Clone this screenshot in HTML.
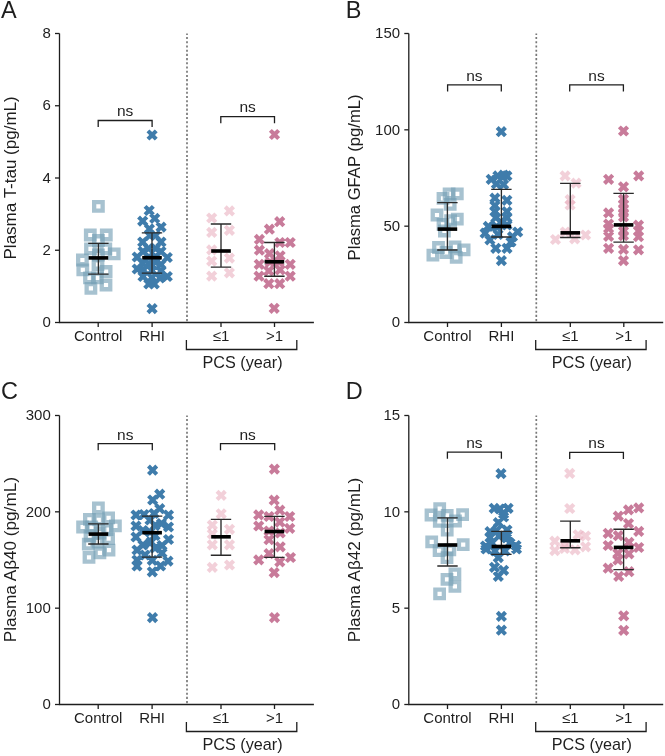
<!DOCTYPE html>
<html><head><meta charset="utf-8"><style>
html,body{margin:0;padding:0;background:#fff;}
svg{display:block;will-change:transform;}
text{font-family:"Liberation Sans", sans-serif;fill:#1e1e1e;}
.t{font-size:15px;}
.t2{font-size:16.2px;}
.t3{font-size:16px;}
.t4{font-size:15.5px;}
.L{font-size:23.5px;}
</style></head><body>
<svg width="665" height="756" viewBox="0 0 665 756">
<defs><path id="x" d="M0,2.9L2.7,5.6L5.6,2.7L2.9,0L5.6,-2.7L2.7,-5.6L0,-2.9L-2.7,-5.6L-5.6,-2.7L-2.9,0L-5.6,2.7L-2.7,5.6Z"/><path id="s" d="M-6.4,-6.4H6.4V6.4H-6.4ZM-2.1,-2.1V2.1H2.1V-2.1Z" fill-rule="evenodd"/></defs>
<g transform="translate(0,0)">
<path d="M59.5,33.5V322.5H313.9" fill="none" stroke="#1e1e1e" stroke-width="1.3"/>
<path d="M55,322.5H59.5" stroke="#1e1e1e" stroke-width="1.3"/>
<text x="50.8" y="327.2" text-anchor="end" class="t">0</text>
<path d="M55,250.25H59.5" stroke="#1e1e1e" stroke-width="1.3"/>
<text x="50.8" y="254.95" text-anchor="end" class="t">2</text>
<path d="M55,178H59.5" stroke="#1e1e1e" stroke-width="1.3"/>
<text x="50.8" y="182.7" text-anchor="end" class="t">4</text>
<path d="M55,105.75H59.5" stroke="#1e1e1e" stroke-width="1.3"/>
<text x="50.8" y="110.45" text-anchor="end" class="t">6</text>
<path d="M55,33.5H59.5" stroke="#1e1e1e" stroke-width="1.3"/>
<text x="50.8" y="38.2" text-anchor="end" class="t">8</text>
<path d="M98.2,322.5V327" stroke="#1e1e1e" stroke-width="1.3"/>
<path d="M152.1,322.5V327" stroke="#1e1e1e" stroke-width="1.3"/>
<path d="M221.0,322.5V327" stroke="#1e1e1e" stroke-width="1.3"/>
<path d="M274.5,322.5V327" stroke="#1e1e1e" stroke-width="1.3"/>
<text x="98.2" y="341.2" text-anchor="middle" class="t">Control</text>
<text x="152.1" y="341.2" text-anchor="middle" class="t">RHI</text>
<text x="221.0" y="341.2" text-anchor="middle" class="t">≤1</text>
<text x="274.5" y="341.2" text-anchor="middle" class="t">&gt;1</text>
<path d="M187,33.5V322.5" stroke="#787878" stroke-width="1.7" stroke-dasharray="2.1,2.11" stroke-dashoffset="0.7"/>
<path d="M186.4,340V349.5H296.8V340" fill="none" stroke="#1e1e1e" stroke-width="1.3"/>
<text x="242.5" y="368.4" text-anchor="middle" class="t2">PCS (year)</text>
<text x="1.0" y="18.0" class="L">A</text>
<text transform="translate(15.9,177.9) rotate(-90)" text-anchor="middle" class="t3" textLength="163.2" lengthAdjust="spacingAndGlyphs">Plasma T-tau (pg/mL)</text>
<path d="M98.2,127.1V120.5H152.1V127.1" fill="none" stroke="#1e1e1e" stroke-width="1.3"/>
<text x="125.15" y="116.3" text-anchor="middle" class="t4">ns</text>
<path d="M220.8,123.2V116.6H274.5V123.2" fill="none" stroke="#1e1e1e" stroke-width="1.3"/>
<text x="247.65" y="112.4" text-anchor="middle" class="t4">ns</text>
</g>
<g transform="translate(349.3,0)">
<path d="M59.5,33.5V322.5H313.9" fill="none" stroke="#1e1e1e" stroke-width="1.3"/>
<path d="M55,322.5H59.5" stroke="#1e1e1e" stroke-width="1.3"/>
<text x="50.8" y="327.2" text-anchor="end" class="t">0</text>
<path d="M55,226.17H59.5" stroke="#1e1e1e" stroke-width="1.3"/>
<text x="50.8" y="230.87" text-anchor="end" class="t">50</text>
<path d="M55,129.83H59.5" stroke="#1e1e1e" stroke-width="1.3"/>
<text x="50.8" y="134.53" text-anchor="end" class="t">100</text>
<path d="M55,33.5H59.5" stroke="#1e1e1e" stroke-width="1.3"/>
<text x="50.8" y="38.2" text-anchor="end" class="t">150</text>
<path d="M98.2,322.5V327" stroke="#1e1e1e" stroke-width="1.3"/>
<path d="M152.1,322.5V327" stroke="#1e1e1e" stroke-width="1.3"/>
<path d="M221.0,322.5V327" stroke="#1e1e1e" stroke-width="1.3"/>
<path d="M274.5,322.5V327" stroke="#1e1e1e" stroke-width="1.3"/>
<text x="98.2" y="341.2" text-anchor="middle" class="t">Control</text>
<text x="152.1" y="341.2" text-anchor="middle" class="t">RHI</text>
<text x="221.0" y="341.2" text-anchor="middle" class="t">≤1</text>
<text x="274.5" y="341.2" text-anchor="middle" class="t">&gt;1</text>
<path d="M187,33.5V322.5" stroke="#787878" stroke-width="1.7" stroke-dasharray="2.1,2.11" stroke-dashoffset="0.7"/>
<path d="M186.4,340V349.5H296.8V340" fill="none" stroke="#1e1e1e" stroke-width="1.3"/>
<text x="242.5" y="368.4" text-anchor="middle" class="t2">PCS (year)</text>
<text x="-3.5" y="18.0" class="L">B</text>
<text transform="translate(10.8,177.4) rotate(-90)" text-anchor="middle" class="t3" textLength="166" lengthAdjust="spacingAndGlyphs">Plasma GFAP (pg/mL)</text>
<path d="M98.3,91.4V84.8H152.0V91.4" fill="none" stroke="#1e1e1e" stroke-width="1.3"/>
<text x="125.15" y="80.6" text-anchor="middle" class="t4">ns</text>
<path d="M220.4,91.5V84.9H274.1V91.5" fill="none" stroke="#1e1e1e" stroke-width="1.3"/>
<text x="247.25" y="80.7" text-anchor="middle" class="t4">ns</text>
</g>
<g transform="translate(0,382)">
<path d="M59.5,33.5V322.5H313.9" fill="none" stroke="#1e1e1e" stroke-width="1.3"/>
<path d="M55,322.5H59.5" stroke="#1e1e1e" stroke-width="1.3"/>
<text x="50.8" y="327.2" text-anchor="end" class="t">0</text>
<path d="M55,226.17H59.5" stroke="#1e1e1e" stroke-width="1.3"/>
<text x="50.8" y="230.87" text-anchor="end" class="t">100</text>
<path d="M55,129.83H59.5" stroke="#1e1e1e" stroke-width="1.3"/>
<text x="50.8" y="134.53" text-anchor="end" class="t">200</text>
<path d="M55,33.5H59.5" stroke="#1e1e1e" stroke-width="1.3"/>
<text x="50.8" y="38.2" text-anchor="end" class="t">300</text>
<path d="M98.2,322.5V327" stroke="#1e1e1e" stroke-width="1.3"/>
<path d="M152.1,322.5V327" stroke="#1e1e1e" stroke-width="1.3"/>
<path d="M221.0,322.5V327" stroke="#1e1e1e" stroke-width="1.3"/>
<path d="M274.5,322.5V327" stroke="#1e1e1e" stroke-width="1.3"/>
<text x="98.2" y="341.2" text-anchor="middle" class="t">Control</text>
<text x="152.1" y="341.2" text-anchor="middle" class="t">RHI</text>
<text x="221.0" y="341.2" text-anchor="middle" class="t">≤1</text>
<text x="274.5" y="341.2" text-anchor="middle" class="t">&gt;1</text>
<path d="M187,33.5V322.5" stroke="#787878" stroke-width="1.7" stroke-dasharray="2.1,2.11" stroke-dashoffset="0.7"/>
<path d="M186.4,340V349.5H296.8V340" fill="none" stroke="#1e1e1e" stroke-width="1.3"/>
<text x="242.5" y="368.4" text-anchor="middle" class="t2">PCS (year)</text>
<text x="1.0" y="17.4" class="L">C</text>
<text transform="translate(15.9,177.7) rotate(-90)" text-anchor="middle" class="t3" textLength="165.2" lengthAdjust="spacingAndGlyphs">Plasma Aβ40 (pg/mL)</text>
<path d="M98.2,68.3V61.7H152.3V68.3" fill="none" stroke="#1e1e1e" stroke-width="1.3"/>
<text x="125.25" y="57.5" text-anchor="middle" class="t4">ns</text>
<path d="M220.5,68.3V61.7H274.7V68.3" fill="none" stroke="#1e1e1e" stroke-width="1.3"/>
<text x="247.6" y="57.5" text-anchor="middle" class="t4">ns</text>
</g>
<g transform="translate(349.3,382)">
<path d="M59.5,33.5V322.5H313.9" fill="none" stroke="#1e1e1e" stroke-width="1.3"/>
<path d="M55,322.5H59.5" stroke="#1e1e1e" stroke-width="1.3"/>
<text x="50.8" y="327.2" text-anchor="end" class="t">0</text>
<path d="M55,226.17H59.5" stroke="#1e1e1e" stroke-width="1.3"/>
<text x="50.8" y="230.87" text-anchor="end" class="t">5</text>
<path d="M55,129.83H59.5" stroke="#1e1e1e" stroke-width="1.3"/>
<text x="50.8" y="134.53" text-anchor="end" class="t">10</text>
<path d="M55,33.5H59.5" stroke="#1e1e1e" stroke-width="1.3"/>
<text x="50.8" y="38.2" text-anchor="end" class="t">15</text>
<path d="M98.2,322.5V327" stroke="#1e1e1e" stroke-width="1.3"/>
<path d="M152.1,322.5V327" stroke="#1e1e1e" stroke-width="1.3"/>
<path d="M221.0,322.5V327" stroke="#1e1e1e" stroke-width="1.3"/>
<path d="M274.5,322.5V327" stroke="#1e1e1e" stroke-width="1.3"/>
<text x="98.2" y="341.2" text-anchor="middle" class="t">Control</text>
<text x="152.1" y="341.2" text-anchor="middle" class="t">RHI</text>
<text x="221.0" y="341.2" text-anchor="middle" class="t">≤1</text>
<text x="274.5" y="341.2" text-anchor="middle" class="t">&gt;1</text>
<path d="M187,33.5V322.5" stroke="#787878" stroke-width="1.7" stroke-dasharray="2.1,2.11" stroke-dashoffset="0.7"/>
<path d="M186.4,340V349.5H296.8V340" fill="none" stroke="#1e1e1e" stroke-width="1.3"/>
<text x="242.5" y="368.4" text-anchor="middle" class="t2">PCS (year)</text>
<text x="-3.5" y="17.4" class="L">D</text>
<text transform="translate(10.3,178.0) rotate(-90)" text-anchor="middle" class="t3" textLength="164.4" lengthAdjust="spacingAndGlyphs">Plasma Aβ42 (pg/mL)</text>
<path d="M98.1,76.7V70.1H152.1V76.7" fill="none" stroke="#1e1e1e" stroke-width="1.3"/>
<text x="125.1" y="65.9" text-anchor="middle" class="t4">ns</text>
<path d="M220.4,76.9V70.3H274.1V76.9" fill="none" stroke="#1e1e1e" stroke-width="1.3"/>
<text x="247.25" y="66.1" text-anchor="middle" class="t4">ns</text>
</g>
<g fill="#76a0b5" fill-opacity="0.64">
<use href="#s" x="98.4" y="206.4"/>
<use href="#s" x="90.3" y="235"/>
<use href="#s" x="106.3" y="235"/>
<use href="#s" x="98.4" y="240.5"/>
<use href="#s" x="90.5" y="248.8"/>
<use href="#s" x="105.8" y="248.8"/>
<use href="#s" x="114.2" y="253.9"/>
<use href="#s" x="98.4" y="255"/>
<use href="#s" x="82.4" y="260"/>
<use href="#s" x="82.8" y="269.8"/>
<use href="#s" x="98" y="264.5"/>
<use href="#s" x="106.1" y="271.5"/>
<use href="#s" x="89.5" y="277.9"/>
<use href="#s" x="97.3" y="277.9"/>
<use href="#s" x="106" y="285"/>
<use href="#s" x="90.9" y="288.3"/>
<use href="#s" x="449.1" y="193.9"/>
<use href="#s" x="457.3" y="193.9"/>
<use href="#s" x="443" y="198.4"/>
<use href="#s" x="450.2" y="204.4"/>
<use href="#s" x="437" y="215"/>
<use href="#s" x="457.3" y="219.1"/>
<use href="#s" x="450.6" y="220.6"/>
<use href="#s" x="443" y="224.4"/>
<use href="#s" x="444.4" y="231"/>
<use href="#s" x="432.9" y="255.1"/>
<use href="#s" x="438.5" y="247.5"/>
<use href="#s" x="446" y="252.5"/>
<use href="#s" x="455" y="246.8"/>
<use href="#s" x="464.1" y="249.8"/>
<use href="#s" x="456.2" y="257.3"/>
<use href="#s" x="98.4" y="507.8"/>
<use href="#s" x="89.4" y="519.4"/>
<use href="#s" x="108.6" y="517.9"/>
<use href="#s" x="98.8" y="519.8"/>
<use href="#s" x="82.6" y="527"/>
<use href="#s" x="115.4" y="525.8"/>
<use href="#s" x="91.7" y="527"/>
<use href="#s" x="107.1" y="529.6"/>
<use href="#s" x="90" y="536"/>
<use href="#s" x="100" y="533"/>
<use href="#s" x="108.6" y="538.6"/>
<use href="#s" x="88.3" y="544.2"/>
<use href="#s" x="98" y="542"/>
<use href="#s" x="109" y="550.2"/>
<use href="#s" x="99.9" y="552.8"/>
<use href="#s" x="89" y="557.3"/>
<use href="#s" x="439.7" y="508.6"/>
<use href="#s" x="431" y="515"/>
<use href="#s" x="447.2" y="515.4"/>
<use href="#s" x="462.6" y="514.7"/>
<use href="#s" x="439.3" y="521.4"/>
<use href="#s" x="455.5" y="521"/>
<use href="#s" x="447.2" y="530.1"/>
<use href="#s" x="431.7" y="541.9"/>
<use href="#s" x="463.2" y="544.7"/>
<use href="#s" x="439.1" y="550.7"/>
<use href="#s" x="449.8" y="549.8"/>
<use href="#s" x="447" y="557.7"/>
<use href="#s" x="454.9" y="573.9"/>
<use href="#s" x="447" y="579.4"/>
<use href="#s" x="454.9" y="586.4"/>
<use href="#s" x="439.6" y="593.8"/>
</g>
<g fill="#eab3c2" fill-opacity="0.62">
<use href="#x" x="211.7" y="218"/>
<use href="#x" x="229.4" y="210.9"/>
<use href="#x" x="211.7" y="232.4"/>
<use href="#x" x="229.4" y="230.3"/>
<use href="#x" x="211.7" y="249.9"/>
<use href="#x" x="211.7" y="261.1"/>
<use href="#x" x="229.4" y="258.1"/>
<use href="#x" x="211.7" y="276.1"/>
<use href="#x" x="229.4" y="272.8"/>
<use href="#x" x="565.1" y="175.9"/>
<use href="#x" x="576.1" y="183.1"/>
<use href="#x" x="570.1" y="199.7"/>
<use href="#x" x="570.1" y="205"/>
<use href="#x" x="555.5" y="239.5"/>
<use href="#x" x="585.6" y="235"/>
<use href="#x" x="574.7" y="238.8"/>
<use href="#x" x="565.3" y="232"/>
<use href="#x" x="221.2" y="495.4"/>
<use href="#x" x="221.2" y="513.8"/>
<use href="#x" x="212.3" y="525.1"/>
<use href="#x" x="229.5" y="529.3"/>
<use href="#x" x="212.3" y="534"/>
<use href="#x" x="212.3" y="544.8"/>
<use href="#x" x="229.5" y="544.8"/>
<use href="#x" x="212.3" y="567.4"/>
<use href="#x" x="229.5" y="565"/>
<use href="#x" x="569.7" y="473.4"/>
<use href="#x" x="569.7" y="508.5"/>
<use href="#x" x="554.8" y="541.2"/>
<use href="#x" x="554.8" y="550.6"/>
<use href="#x" x="565" y="545"/>
<use href="#x" x="578.1" y="534.8"/>
<use href="#x" x="585.6" y="536"/>
<use href="#x" x="585.6" y="546.8"/>
<use href="#x" x="575.1" y="549.8"/>
<use href="#x" x="564.5" y="548.5"/>
</g>
<path fill="#3f7cab" d="M152.1,137.9L154.8,140.6L157.7,137.7L155,135L157.7,132.3L154.8,129.4L152.1,132.1L149.4,129.4L146.5,132.3L149.2,135L146.5,137.7L149.4,140.6ZM149.2,213.4L151.9,216.1L154.8,213.2L152.1,210.5L154.8,207.8L151.9,204.9L149.2,207.6L146.5,204.9L143.6,207.8L146.3,210.5L143.6,213.2L146.5,216.1ZM154.7,221.3L157.4,224L160.3,221.1L157.6,218.4L160.3,215.7L157.4,212.8L154.7,215.5L152,212.8L149.1,215.7L151.8,218.4L149.1,221.1L152,224ZM142.7,224L145.4,226.7L148.3,223.8L145.6,221.1L148.3,218.4L145.4,215.5L142.7,218.2L140,215.5L137.1,218.4L139.8,221.1L137.1,223.8L140,226.7ZM161.1,230L163.8,232.7L166.7,229.8L164,227.1L166.7,224.4L163.8,221.5L161.1,224.2L158.4,221.5L155.5,224.4L158.2,227.1L155.5,229.8L158.4,232.7ZM149.4,231.8L152.1,234.5L155,231.6L152.3,228.9L155,226.2L152.1,223.3L149.4,226L146.7,223.3L143.8,226.2L146.5,228.9L143.8,231.6L146.7,234.5ZM149.8,238.4L152.5,241.1L155.4,238.2L152.7,235.5L155.4,232.8L152.5,229.9L149.8,232.6L147.1,229.9L144.2,232.8L146.9,235.5L144.2,238.2L147.1,241.1ZM155.5,238.4L158.2,241.1L161.1,238.2L158.4,235.5L161.1,232.8L158.2,229.9L155.5,232.6L152.8,229.9L149.9,232.8L152.6,235.5L149.9,238.2L152.8,241.1ZM142.7,244.9L145.4,247.6L148.3,244.7L145.6,242L148.3,239.3L145.4,236.4L142.7,239.1L140,236.4L137.1,239.3L139.8,242L137.1,244.7L140,247.6ZM161,244.9L163.7,247.6L166.6,244.7L163.9,242L166.6,239.3L163.7,236.4L161,239.1L158.3,236.4L155.4,239.3L158.1,242L155.4,244.7L158.3,247.6ZM148.5,251.4L151.2,254.1L154.1,251.2L151.4,248.5L154.1,245.8L151.2,242.9L148.5,245.6L145.8,242.9L142.9,245.8L145.6,248.5L142.9,251.2L145.8,254.1ZM155.5,251.4L158.2,254.1L161.1,251.2L158.4,248.5L161.1,245.8L158.2,242.9L155.5,245.6L152.8,242.9L149.9,245.8L152.6,248.5L149.9,251.2L152.8,254.1ZM143,254.4L145.7,257.1L148.6,254.2L145.9,251.5L148.6,248.8L145.7,245.9L143,248.6L140.3,245.9L137.4,248.8L140.1,251.5L137.4,254.2L140.3,257.1ZM161,254.4L163.7,257.1L166.6,254.2L163.9,251.5L166.6,248.8L163.7,245.9L161,248.6L158.3,245.9L155.4,248.8L158.1,251.5L155.4,254.2L158.3,257.1ZM137.2,259.9L139.9,262.6L142.8,259.7L140.1,257L142.8,254.3L139.9,251.4L137.2,254.1L134.5,251.4L131.6,254.3L134.3,257L131.6,259.7L134.5,262.6ZM167.3,260.4L170,263.1L172.9,260.2L170.2,257.5L172.9,254.8L170,251.9L167.3,254.6L164.6,251.9L161.7,254.8L164.4,257.5L161.7,260.2L164.6,263.1ZM149,259.9L151.7,262.6L154.6,259.7L151.9,257L154.6,254.3L151.7,251.4L149,254.1L146.3,251.4L143.4,254.3L146.1,257L143.4,259.7L146.3,262.6ZM155.5,259.4L158.2,262.1L161.1,259.2L158.4,256.5L161.1,253.8L158.2,250.9L155.5,253.6L152.8,250.9L149.9,253.8L152.6,256.5L149.9,259.2L152.8,262.1ZM142.5,265.9L145.2,268.6L148.1,265.7L145.4,263L148.1,260.3L145.2,257.4L142.5,260.1L139.8,257.4L136.9,260.3L139.6,263L136.9,265.7L139.8,268.6ZM161,267.4L163.7,270.1L166.6,267.2L163.9,264.5L166.6,261.8L163.7,258.9L161,261.6L158.3,258.9L155.4,261.8L158.1,264.5L155.4,267.2L158.3,270.1ZM149,266.4L151.7,269.1L154.6,266.2L151.9,263.5L154.6,260.8L151.7,257.9L149,260.6L146.3,257.9L143.4,260.8L146.1,263.5L143.4,266.2L146.3,269.1ZM155.5,264.9L158.2,267.6L161.1,264.7L158.4,262L161.1,259.3L158.2,256.4L155.5,259.1L152.8,256.4L149.9,259.3L152.6,262L149.9,264.7L152.8,267.6ZM137.2,271.9L139.9,274.6L142.8,271.7L140.1,269L142.8,266.3L139.9,263.4L137.2,266.1L134.5,263.4L131.6,266.3L134.3,269L131.6,271.7L134.5,274.6ZM143.5,272.9L146.2,275.6L149.1,272.7L146.4,270L149.1,267.3L146.2,264.4L143.5,267.1L140.8,264.4L137.9,267.3L140.6,270L137.9,272.7L140.8,275.6ZM152,273.4L154.7,276.1L157.6,273.2L154.9,270.5L157.6,267.8L154.7,264.9L152,267.6L149.3,264.9L146.4,267.8L149.1,270.5L146.4,273.2L149.3,276.1ZM161,273.9L163.7,276.6L166.6,273.7L163.9,271L166.6,268.3L163.7,265.4L161,268.1L158.3,265.4L155.4,268.3L158.1,271L155.4,273.7L158.3,276.6ZM143,279.4L145.7,282.1L148.6,279.2L145.9,276.5L148.6,273.8L145.7,270.9L143,273.6L140.3,270.9L137.4,273.8L140.1,276.5L137.4,279.2L140.3,282.1ZM167.3,279.4L170,282.1L172.9,279.2L170.2,276.5L172.9,273.8L170,270.9L167.3,273.6L164.6,270.9L161.7,273.8L164.4,276.5L161.7,279.2L164.6,282.1ZM152,280.4L154.7,283.1L157.6,280.2L154.9,277.5L157.6,274.8L154.7,271.9L152,274.6L149.3,271.9L146.4,274.8L149.1,277.5L146.4,280.2L149.3,283.1ZM160,280.9L162.7,283.6L165.6,280.7L162.9,278L165.6,275.3L162.7,272.4L160,275.1L157.3,272.4L154.4,275.3L157.1,278L154.4,280.7L157.3,283.6ZM148.8,286.9L151.5,289.6L154.4,286.7L151.7,284L154.4,281.3L151.5,278.4L148.8,281.1L146.1,278.4L143.2,281.3L145.9,284L143.2,286.7L146.1,289.6ZM154.3,286.9L157,289.6L159.9,286.7L157.2,284L159.9,281.3L157,278.4L154.3,281.1L151.6,278.4L148.7,281.3L151.4,284L148.7,286.7L151.6,289.6ZM152.1,311.5L154.8,314.2L157.7,311.3L155,308.6L157.7,305.9L154.8,303L152.1,305.7L149.4,303L146.5,305.9L149.2,308.6L146.5,311.3L149.4,314.2ZM501.3,134.6L504,137.3L506.9,134.4L504.2,131.7L506.9,129L504,126.1L501.3,128.8L498.6,126.1L495.7,129L498.4,131.7L495.7,134.4L498.6,137.3ZM491.2,182.2L493.9,184.9L496.8,182L494.1,179.3L496.8,176.6L493.9,173.7L491.2,176.4L488.5,173.7L485.6,176.6L488.3,179.3L485.6,182L488.5,184.9ZM497.9,178.8L500.6,181.5L503.5,178.6L500.8,175.9L503.5,173.2L500.6,170.3L497.9,173L495.2,170.3L492.3,173.2L495,175.9L492.3,178.6L495.2,181.5ZM503.6,178.1L506.3,180.8L509.2,177.9L506.5,175.2L509.2,172.5L506.3,169.6L503.6,172.3L500.9,169.6L498,172.5L500.7,175.2L498,177.9L500.9,180.8ZM506.9,178.8L509.6,181.5L512.5,178.6L509.8,175.9L512.5,173.2L509.6,170.3L506.9,173L504.2,170.3L501.3,173.2L504,175.9L501.3,178.6L504.2,181.5ZM496.4,186.7L499.1,189.4L502,186.5L499.3,183.8L502,181.1L499.1,178.2L496.4,180.9L493.7,178.2L490.8,181.1L493.5,183.8L490.8,186.5L493.7,189.4ZM503.6,187.4L506.3,190.1L509.2,187.2L506.5,184.5L509.2,181.8L506.3,178.9L503.6,181.6L500.9,178.9L498,181.8L500.7,184.5L498,187.2L500.9,190.1ZM494.9,201L497.6,203.7L500.5,200.8L497.8,198.1L500.5,195.4L497.6,192.5L494.9,195.2L492.2,192.5L489.3,195.4L492,198.1L489.3,200.8L492.2,203.7ZM506.9,203.2L509.6,205.9L512.5,203L509.8,200.3L512.5,197.6L509.6,194.7L506.9,197.4L504.2,194.7L501.3,197.6L504,200.3L501.3,203L504.2,205.9ZM494.9,208.5L497.6,211.2L500.5,208.3L497.8,205.6L500.5,202.9L497.6,200L494.9,202.7L492.2,200L489.3,202.9L492,205.6L489.3,208.3L492.2,211.2ZM494.9,214.5L497.6,217.2L500.5,214.3L497.8,211.6L500.5,208.9L497.6,206L494.9,208.7L492.2,206L489.3,208.9L492,211.6L489.3,214.3L492.2,217.2ZM506.9,214.5L509.6,217.2L512.5,214.3L509.8,211.6L512.5,208.9L509.6,206L506.9,208.7L504.2,206L501.3,208.9L504,211.6L501.3,214.3L504.2,217.2ZM495.8,220.6L498.5,223.3L501.4,220.4L498.7,217.7L501.4,215L498.5,212.1L495.8,214.8L493.1,212.1L490.2,215L492.9,217.7L490.2,220.4L493.1,223.3ZM507,220.6L509.7,223.3L512.6,220.4L509.9,217.7L512.6,215L509.7,212.1L507,214.8L504.3,212.1L501.4,215L504.1,217.7L501.4,220.4L504.3,223.3ZM501,224.9L503.7,227.6L506.6,224.7L503.9,222L506.6,219.3L503.7,216.4L501,219.1L498.3,216.4L495.4,219.3L498.1,222L495.4,224.7L498.3,227.6ZM488.3,229.3L491,232L493.9,229.1L491.2,226.4L493.9,223.7L491,220.8L488.3,223.5L485.6,220.8L482.7,223.7L485.4,226.4L482.7,229.1L485.6,232ZM497,229.9L499.7,232.6L502.6,229.7L499.9,227L502.6,224.3L499.7,221.4L497,224.1L494.3,221.4L491.4,224.3L494.1,227L491.4,229.7L494.3,232.6ZM507,227.9L509.7,230.6L512.6,227.7L509.9,225L512.6,222.3L509.7,219.4L507,222.1L504.3,219.4L501.4,222.3L504.1,225L501.4,227.7L504.3,230.6ZM485.1,236.1L487.8,238.8L490.7,235.9L488,233.2L490.7,230.5L487.8,227.6L485.1,230.3L482.4,227.6L479.5,230.5L482.2,233.2L479.5,235.9L482.4,238.8ZM517.7,234.9L520.4,237.6L523.3,234.7L520.6,232L523.3,229.3L520.4,226.4L517.7,229.1L515,226.4L512.1,229.3L514.8,232L512.1,234.7L515,237.6ZM498,237.4L500.7,240.1L503.6,237.2L500.9,234.5L503.6,231.8L500.7,228.9L498,231.6L495.3,228.9L492.4,231.8L495.1,234.5L492.4,237.2L495.3,240.1ZM512.5,239.6L515.2,242.3L518.1,239.4L515.4,236.7L518.1,234L515.2,231.1L512.5,233.8L509.8,231.1L506.9,234L509.6,236.7L506.9,239.4L509.8,242.3ZM489.9,242.8L492.6,245.5L495.5,242.6L492.8,239.9L495.5,237.2L492.6,234.3L489.9,237L487.2,234.3L484.3,237.2L487,239.9L484.3,242.6L487.2,245.5ZM511,244.9L513.7,247.6L516.6,244.7L513.9,242L516.6,239.3L513.7,236.4L511,239.1L508.3,236.4L505.4,239.3L508.1,242L505.4,244.7L508.3,247.6ZM495.8,251.2L498.5,253.9L501.4,251L498.7,248.3L501.4,245.6L498.5,242.7L495.8,245.4L493.1,242.7L490.2,245.6L492.9,248.3L490.2,251L493.1,253.9ZM507,251.2L509.7,253.9L512.6,251L509.9,248.3L512.6,245.6L509.7,242.7L507,245.4L504.3,242.7L501.4,245.6L504.1,248.3L501.4,251L504.3,253.9ZM501.4,263.5L504.1,266.2L507,263.3L504.3,260.6L507,257.9L504.1,255L501.4,257.7L498.7,255L495.8,257.9L498.5,260.6L495.8,263.3L498.7,266.2ZM152.6,473.1L155.3,475.8L158.2,472.9L155.5,470.2L158.2,467.5L155.3,464.6L152.6,467.3L149.9,464.6L147,467.5L149.7,470.2L147,472.9L149.9,475.8ZM159.7,497.1L162.4,499.8L165.3,496.9L162.6,494.2L165.3,491.5L162.4,488.6L159.7,491.3L157,488.6L154.1,491.5L156.8,494.2L154.1,496.9L157,499.8ZM152.7,502.9L155.4,505.6L158.3,502.7L155.6,500L158.3,497.3L155.4,494.4L152.7,497.1L150,494.4L147.1,497.3L149.8,500L147.1,502.7L150,505.6ZM159.7,511.6L162.4,514.3L165.3,511.4L162.6,508.7L165.3,506L162.4,503.1L159.7,505.8L157,503.1L154.1,506L156.8,508.7L154.1,511.4L157,514.3ZM136,517.9L138.7,520.6L141.6,517.7L138.9,515L141.6,512.3L138.7,509.4L136,512.1L133.3,509.4L130.4,512.3L133.1,515L130.4,517.7L133.3,520.6ZM144,517.4L146.7,520.1L149.6,517.2L146.9,514.5L149.6,511.8L146.7,508.9L144,511.6L141.3,508.9L138.4,511.8L141.1,514.5L138.4,517.2L141.3,520.1ZM154,516.4L156.7,519.1L159.6,516.2L156.9,513.5L159.6,510.8L156.7,507.9L154,510.6L151.3,507.9L148.4,510.8L151.1,513.5L148.4,516.2L151.3,519.1ZM168.5,517.9L171.2,520.6L174.1,517.7L171.4,515L174.1,512.3L171.2,509.4L168.5,512.1L165.8,509.4L162.9,512.3L165.6,515L162.9,517.7L165.8,520.6ZM150,522.9L152.7,525.6L155.6,522.7L152.9,520L155.6,517.3L152.7,514.4L150,517.1L147.3,514.4L144.4,517.3L147.1,520L144.4,522.7L147.3,525.6ZM161.5,526.4L164.2,529.1L167.1,526.2L164.4,523.5L167.1,520.8L164.2,517.9L161.5,520.6L158.8,517.9L155.9,520.8L158.6,523.5L155.9,526.2L158.8,529.1ZM136,528.9L138.7,531.6L141.6,528.7L138.9,526L141.6,523.3L138.7,520.4L136,523.1L133.3,520.4L130.4,523.3L133.1,526L130.4,528.7L133.3,531.6ZM155,528.4L157.7,531.1L160.6,528.2L157.9,525.5L160.6,522.8L157.7,519.9L155,522.6L152.3,519.9L149.4,522.8L152.1,525.5L149.4,528.2L152.3,531.1ZM168.5,529.9L171.2,532.6L174.1,529.7L171.4,527L174.1,524.3L171.2,521.4L168.5,524.1L165.8,521.4L162.9,524.3L165.6,527L162.9,529.7L165.8,532.6ZM143,533.4L145.7,536.1L148.6,533.2L145.9,530.5L148.6,527.8L145.7,524.9L143,527.6L140.3,524.9L137.4,527.8L140.1,530.5L137.4,533.2L140.3,536.1ZM150,534.9L152.7,537.6L155.6,534.7L152.9,532L155.6,529.3L152.7,526.4L150,529.1L147.3,526.4L144.4,529.3L147.1,532L144.4,534.7L147.3,537.6ZM136,539.9L138.7,542.6L141.6,539.7L138.9,537L141.6,534.3L138.7,531.4L136,534.1L133.3,531.4L130.4,534.3L133.1,537L130.4,539.7L133.3,542.6ZM155,538.4L157.7,541.1L160.6,538.2L157.9,535.5L160.6,532.8L157.7,529.9L155,532.6L152.3,529.9L149.4,532.8L152.1,535.5L149.4,538.2L152.3,541.1ZM168.5,542.4L171.2,545.1L174.1,542.2L171.4,539.5L174.1,536.8L171.2,533.9L168.5,536.6L165.8,533.9L162.9,536.8L165.6,539.5L162.9,542.2L165.8,545.1ZM143,547.9L145.7,550.6L148.6,547.7L145.9,545L148.6,542.3L145.7,539.4L143,542.1L140.3,539.4L137.4,542.3L140.1,545L137.4,547.7L140.3,550.6ZM151,544.9L153.7,547.6L156.6,544.7L153.9,542L156.6,539.3L153.7,536.4L151,539.1L148.3,536.4L145.4,539.3L148.1,542L145.4,544.7L148.3,547.6ZM162,548.4L164.7,551.1L167.6,548.2L164.9,545.5L167.6,542.8L164.7,539.9L162,542.6L159.3,539.9L156.4,542.8L159.1,545.5L156.4,548.2L159.3,551.1ZM137,552.9L139.7,555.6L142.6,552.7L139.9,550L142.6,547.3L139.7,544.4L137,547.1L134.3,544.4L131.4,547.3L134.1,550L131.4,552.7L134.3,555.6ZM155,550.9L157.7,553.6L160.6,550.7L157.9,548L160.6,545.3L157.7,542.4L155,545.1L152.3,542.4L149.4,545.3L152.1,548L149.4,550.7L152.3,553.6ZM145,557.9L147.7,560.6L150.6,557.7L147.9,555L150.6,552.3L147.7,549.4L145,552.1L142.3,549.4L139.4,552.3L142.1,555L139.4,557.7L142.3,560.6ZM162,555.9L164.7,558.6L167.6,555.7L164.9,553L167.6,550.3L164.7,547.4L162,550.1L159.3,547.4L156.4,550.3L159.1,553L156.4,555.7L159.3,558.6ZM152.3,563.2L155,565.9L157.9,563L155.2,560.3L157.9,557.6L155,554.7L152.3,557.4L149.6,554.7L146.7,557.6L149.4,560.3L146.7,563L149.6,565.9ZM168,564L170.7,566.7L173.6,563.8L170.9,561.1L173.6,558.4L170.7,555.5L168,558.2L165.3,555.5L162.4,558.4L165.1,561.1L162.4,563.8L165.3,566.7ZM137,562.9L139.7,565.6L142.6,562.7L139.9,560L142.6,557.3L139.7,554.4L137,557.1L134.3,554.4L131.4,557.3L134.1,560L131.4,562.7L134.3,565.6ZM137,568.9L139.7,571.6L142.6,568.7L139.9,566L142.6,563.3L139.7,560.4L137,563.1L134.3,560.4L131.4,563.3L134.1,566L131.4,568.7L134.3,571.6ZM160.6,568.9L163.3,571.6L166.2,568.7L163.5,566L166.2,563.3L163.3,560.4L160.6,563.1L157.9,560.4L155,563.3L157.7,566L155,568.7L157.9,571.6ZM152.3,574.7L155,577.4L157.9,574.5L155.2,571.8L157.9,569.1L155,566.2L152.3,568.9L149.6,566.2L146.7,569.1L149.4,571.8L146.7,574.5L149.6,577.4ZM152.5,620.5L155.2,623.2L158.1,620.3L155.4,617.6L158.1,614.9L155.2,612L152.5,614.7L149.8,612L146.9,614.9L149.6,617.6L146.9,620.3L149.8,623.2ZM501,476.5L503.7,479.2L506.6,476.3L503.9,473.6L506.6,470.9L503.7,468L501,470.7L498.3,468L495.4,470.9L498.1,473.6L495.4,476.3L498.3,479.2ZM494.2,511.2L496.9,513.9L499.8,511L497.1,508.3L499.8,505.6L496.9,502.7L494.2,505.4L491.5,502.7L488.6,505.6L491.3,508.3L488.6,511L491.5,513.9ZM499.8,511.9L502.5,514.6L505.4,511.7L502.7,509L505.4,506.3L502.5,503.4L499.8,506.1L497.1,503.4L494.2,506.3L496.9,509L494.2,511.7L497.1,514.6ZM508.1,511.2L510.8,513.9L513.7,511L511,508.3L513.7,505.6L510.8,502.7L508.1,505.4L505.4,502.7L502.5,505.6L505.2,508.3L502.5,511L505.4,513.9ZM503.6,516.9L506.3,519.6L509.2,516.7L506.5,514L509.2,511.3L506.3,508.4L503.6,511.1L500.9,508.4L498,511.3L500.7,514L498,516.7L500.9,519.6ZM503.6,519.9L506.3,522.6L509.2,519.7L506.5,517L509.2,514.3L506.3,511.4L503.6,514.1L500.9,511.4L498,514.3L500.7,517L498,519.7L500.9,522.6ZM498.3,525.5L501,528.2L503.9,525.3L501.2,522.6L503.9,519.9L501,517L498.3,519.7L495.6,517L492.7,519.9L495.4,522.6L492.7,525.3L495.6,528.2ZM490,534.5L492.7,537.2L495.6,534.3L492.9,531.6L495.6,528.9L492.7,526L490,528.7L487.3,526L484.4,528.9L487.1,531.6L484.4,534.3L487.3,537.2ZM496,533.9L498.7,536.6L501.6,533.7L498.9,531L501.6,528.3L498.7,525.4L496,528.1L493.3,525.4L490.4,528.3L493.1,531L490.4,533.7L493.3,536.6ZM507.3,538.2L510,540.9L512.9,538L510.2,535.3L512.9,532.6L510,529.7L507.3,532.4L504.6,529.7L501.7,532.6L504.4,535.3L501.7,538L504.6,540.9ZM507,532.9L509.7,535.6L512.6,532.7L509.9,530L512.6,527.3L509.7,524.4L507,527.1L504.3,524.4L501.4,527.3L504.1,530L501.4,532.7L504.3,535.6ZM490,540.5L492.7,543.2L495.6,540.3L492.9,537.6L495.6,534.9L492.7,532L490,534.7L487.3,532L484.4,534.9L487.1,537.6L484.4,540.3L487.3,543.2ZM499,538.9L501.7,541.6L504.6,538.7L501.9,536L504.6,533.3L501.7,530.4L499,533.1L496.3,530.4L493.4,533.3L496.1,536L493.4,538.7L496.3,541.6ZM506.6,540.9L509.3,543.6L512.2,540.7L509.5,538L512.2,535.3L509.3,532.4L506.6,535.1L503.9,532.4L501,535.3L503.7,538L501,540.7L503.9,543.6ZM485.5,548.9L488.2,551.6L491.1,548.7L488.4,546L491.1,543.3L488.2,540.4L485.5,543.1L482.8,540.4L479.9,543.3L482.6,546L479.9,548.7L482.8,551.6ZM492,545.9L494.7,548.6L497.6,545.7L494.9,543L497.6,540.3L494.7,537.4L492,540.1L489.3,537.4L486.4,540.3L489.1,543L486.4,545.7L489.3,548.6ZM510,545.9L512.7,548.6L515.6,545.7L512.9,543L515.6,540.3L512.7,537.4L510,540.1L507.3,537.4L504.4,540.3L507.1,543L504.4,545.7L507.3,548.6ZM516,548.4L518.7,551.1L521.6,548.2L518.9,545.5L521.6,542.8L518.7,539.9L516,542.6L513.3,539.9L510.4,542.8L513.1,545.5L510.4,548.2L513.3,551.1ZM486,551.9L488.7,554.6L491.6,551.7L488.9,549L491.6,546.3L488.7,543.4L486,546.1L483.3,543.4L480.4,546.3L483.1,549L480.4,551.7L483.3,554.6ZM516.5,551.9L519.2,554.6L522.1,551.7L519.4,549L522.1,546.3L519.2,543.4L516.5,546.1L513.8,543.4L510.9,546.3L513.6,549L510.9,551.7L513.8,554.6ZM495,553.9L497.7,556.6L500.6,553.7L497.9,551L500.6,548.3L497.7,545.4L495,548.1L492.3,545.4L489.4,548.3L492.1,551L489.4,553.7L492.3,556.6ZM505,553.9L507.7,556.6L510.6,553.7L507.9,551L510.6,548.3L507.7,545.4L505,548.1L502.3,545.4L499.4,548.3L502.1,551L499.4,553.7L502.3,556.6ZM498.3,560.5L501,563.2L503.9,560.3L501.2,557.6L503.9,554.9L501,552L498.3,554.7L495.6,552L492.7,554.9L495.4,557.6L492.7,560.3L495.6,563.2ZM494.5,570.2L497.2,572.9L500.1,570L497.4,567.3L500.1,564.6L497.2,561.7L494.5,564.4L491.8,561.7L488.9,564.6L491.6,567.3L488.9,570L491.8,572.9ZM503.6,573.2L506.3,575.9L509.2,573L506.5,570.3L509.2,567.6L506.3,564.7L503.6,567.4L500.9,564.7L498,567.6L500.7,570.3L498,573L500.9,575.9ZM498.3,579.3L501,582L503.9,579.1L501.2,576.4L503.9,573.7L501,570.8L498.3,573.5L495.6,570.8L492.7,573.7L495.4,576.4L492.7,579.1L495.6,582ZM501.4,619.3L504.1,622L507,619.1L504.3,616.4L507,613.7L504.1,610.8L501.4,613.5L498.7,610.8L495.8,613.7L498.5,616.4L495.8,619.1L498.7,622ZM501.4,633.1L504.1,635.8L507,632.9L504.3,630.2L507,627.5L504.1,624.6L501.4,627.3L498.7,624.6L495.8,627.5L498.5,630.2L495.8,632.9L498.7,635.8Z"/>
<path fill="#c87b9a" d="M274.5,137.4L277.2,140.1L280.1,137.2L277.4,134.5L280.1,131.8L277.2,128.9L274.5,131.6L271.8,128.9L268.9,131.8L271.6,134.5L268.9,137.2L271.8,140.1ZM279.7,224.6L282.4,227.3L285.3,224.4L282.6,221.7L285.3,219L282.4,216.1L279.7,218.8L277,216.1L274.1,219L276.8,221.7L274.1,224.4L277,227.3ZM269.4,232.1L272.1,234.8L275,231.9L272.3,229.2L275,226.5L272.1,223.6L269.4,226.3L266.7,223.6L263.8,226.5L266.5,229.2L263.8,231.9L266.7,234.8ZM259.4,242.3L262.1,245L265,242.1L262.3,239.4L265,236.7L262.1,233.8L259.4,236.5L256.7,233.8L253.8,236.7L256.5,239.4L253.8,242.1L256.7,245ZM279.8,245.4L282.5,248.1L285.4,245.2L282.7,242.5L285.4,239.8L282.5,236.9L279.8,239.6L277.1,236.9L274.2,239.8L276.9,242.5L274.2,245.2L277.1,248.1ZM290.2,245.4L292.9,248.1L295.8,245.2L293.1,242.5L295.8,239.8L292.9,236.9L290.2,239.6L287.5,236.9L284.6,239.8L287.3,242.5L284.6,245.2L287.5,248.1ZM259.4,253.1L262.1,255.8L265,252.9L262.3,250.2L265,247.5L262.1,244.6L259.4,247.3L256.7,244.6L253.8,247.5L256.5,250.2L253.8,252.9L256.7,255.8ZM269.5,256.5L272.2,259.2L275.1,256.3L272.4,253.6L275.1,250.9L272.2,248L269.5,250.7L266.8,248L263.9,250.9L266.6,253.6L263.9,256.3L266.8,259.2ZM280.1,258.7L282.8,261.4L285.7,258.5L283,255.8L285.7,253.1L282.8,250.2L280.1,252.9L277.4,250.2L274.5,253.1L277.2,255.8L274.5,258.5L277.4,261.4ZM270,264.9L272.7,267.6L275.6,264.7L272.9,262L275.6,259.3L272.7,256.4L270,259.1L267.3,256.4L264.4,259.3L267.1,262L264.4,264.7L267.3,267.6ZM279,264.9L281.7,267.6L284.6,264.7L281.9,262L284.6,259.3L281.7,256.4L279,259.1L276.3,256.4L273.4,259.3L276.1,262L273.4,264.7L276.3,267.6ZM259.2,267.2L261.9,269.9L264.8,267L262.1,264.3L264.8,261.6L261.9,258.7L259.2,261.4L256.5,258.7L253.6,261.6L256.3,264.3L253.6,267L256.5,269.9ZM290.2,267.2L292.9,269.9L295.8,267L293.1,264.3L295.8,261.6L292.9,258.7L290.2,261.4L287.5,258.7L284.6,261.6L287.3,264.3L284.6,267L287.5,269.9ZM268.8,273.8L271.5,276.5L274.4,273.6L271.7,270.9L274.4,268.2L271.5,265.3L268.8,268L266.1,265.3L263.2,268.2L265.9,270.9L263.2,273.6L266.1,276.5ZM280.1,272.7L282.8,275.4L285.7,272.5L283,269.8L285.7,267.1L282.8,264.2L280.1,266.9L277.4,264.2L274.5,267.1L277.2,269.8L274.5,272.5L277.4,275.4ZM259,279.1L261.7,281.8L264.6,278.9L261.9,276.2L264.6,273.5L261.7,270.6L259,273.3L256.3,270.6L253.4,273.5L256.1,276.2L253.4,278.9L256.3,281.8ZM290.2,279.1L292.9,281.8L295.8,278.9L293.1,276.2L295.8,273.5L292.9,270.6L290.2,273.3L287.5,270.6L284.6,273.5L287.3,276.2L284.6,278.9L287.5,281.8ZM268.8,286.6L271.5,289.3L274.4,286.4L271.7,283.7L274.4,281L271.5,278.1L268.8,280.8L266.1,278.1L263.2,281L265.9,283.7L263.2,286.4L266.1,289.3ZM279.7,286.6L282.4,289.3L285.3,286.4L282.6,283.7L285.3,281L282.4,278.1L279.7,280.8L277,278.1L274.1,281L276.8,283.7L274.1,286.4L277,289.3ZM274.2,311.2L276.9,313.9L279.8,311L277.1,308.3L279.8,305.6L276.9,302.7L274.2,305.4L271.5,302.7L268.6,305.6L271.3,308.3L268.6,311L271.5,313.9ZM623.5,133.9L626.2,136.6L629.1,133.7L626.4,131L629.1,128.3L626.2,125.4L623.5,128.1L620.8,125.4L617.9,128.3L620.6,131L617.9,133.7L620.8,136.6ZM608.6,182.2L611.3,184.9L614.2,182L611.5,179.3L614.2,176.6L611.3,173.7L608.6,176.4L605.9,173.7L603,176.6L605.7,179.3L603,182L605.9,184.9ZM638.7,178.8L641.4,181.5L644.3,178.6L641.6,175.9L644.3,173.2L641.4,170.3L638.7,173L636,170.3L633.1,173.2L635.8,175.9L633.1,178.6L636,181.5ZM623.5,189.7L626.2,192.4L629.1,189.5L626.4,186.8L629.1,184.1L626.2,181.2L623.5,183.9L620.8,181.2L617.9,184.1L620.6,186.8L617.9,189.5L620.8,192.4ZM623.5,202.1L626.2,204.8L629.1,201.9L626.4,199.2L629.1,196.5L626.2,193.6L623.5,196.3L620.8,193.6L617.9,196.5L620.6,199.2L617.9,201.9L620.8,204.8ZM623.5,207L626.2,209.7L629.1,206.8L626.4,204.1L629.1,201.4L626.2,198.5L623.5,201.2L620.8,198.5L617.9,201.4L620.6,204.1L617.9,206.8L620.8,209.7ZM623.5,211.5L626.2,214.2L629.1,211.3L626.4,208.6L629.1,205.9L626.2,203L623.5,205.7L620.8,203L617.9,205.9L620.6,208.6L617.9,211.3L620.8,214.2ZM623.5,215.9L626.2,218.6L629.1,215.7L626.4,213L629.1,210.3L626.2,207.4L623.5,210.1L620.8,207.4L617.9,210.3L620.6,213L617.9,215.7L620.8,218.6ZM623.5,219.9L626.2,222.6L629.1,219.7L626.4,217L629.1,214.3L626.2,211.4L623.5,214.1L620.8,211.4L617.9,214.3L620.6,217L617.9,219.7L620.8,222.6ZM608.6,215.8L611.3,218.5L614.2,215.6L611.5,212.9L614.2,210.2L611.3,207.3L608.6,210L605.9,207.3L603,210.2L605.7,212.9L603,215.6L605.9,218.5ZM608.6,226.9L611.3,229.6L614.2,226.7L611.5,224L614.2,221.3L611.3,218.4L608.6,221.1L605.9,218.4L603,221.3L605.7,224L603,226.7L605.9,229.6ZM608.6,231.3L611.3,234L614.2,231.1L611.5,228.4L614.2,225.7L611.3,222.8L608.6,225.5L605.9,222.8L603,225.7L605.7,228.4L603,231.1L605.9,234ZM608.6,239.2L611.3,241.9L614.2,239L611.5,236.3L614.2,233.6L611.3,230.7L608.6,233.4L605.9,230.7L603,233.6L605.7,236.3L603,239L605.9,241.9ZM608.6,251.2L611.3,253.9L614.2,251L611.5,248.3L614.2,245.6L611.3,242.7L608.6,245.4L605.9,242.7L603,245.6L605.7,248.3L603,251L605.9,253.9ZM623.5,234.1L626.2,236.8L629.1,233.9L626.4,231.2L629.1,228.5L626.2,225.6L623.5,228.3L620.8,225.6L617.9,228.5L620.6,231.2L617.9,233.9L620.8,236.8ZM623.5,238.5L626.2,241.2L629.1,238.3L626.4,235.6L629.1,232.9L626.2,230L623.5,232.7L620.8,230L617.9,232.9L620.6,235.6L617.9,238.3L620.8,241.2ZM623.5,252.3L626.2,255L629.1,252.1L626.4,249.4L629.1,246.7L626.2,243.8L623.5,246.5L620.8,243.8L617.9,246.7L620.6,249.4L617.9,252.1L620.8,255ZM623.5,263.5L626.2,266.2L629.1,263.3L626.4,260.6L629.1,257.9L626.2,255L623.5,257.7L620.8,255L617.9,257.9L620.6,260.6L617.9,263.3L620.8,266.2ZM638.5,228.1L641.2,230.8L644.1,227.9L641.4,225.2L644.1,222.5L641.2,219.6L638.5,222.3L635.8,219.6L632.9,222.5L635.6,225.2L632.9,227.9L635.8,230.8ZM638.5,233.9L641.2,236.6L644.1,233.7L641.4,231L644.1,228.3L641.2,225.4L638.5,228.1L635.8,225.4L632.9,228.3L635.6,231L632.9,233.7L635.8,236.6ZM638.5,239.6L641.2,242.3L644.1,239.4L641.4,236.7L644.1,234L641.2,231.1L638.5,233.8L635.8,231.1L632.9,234L635.6,236.7L632.9,239.4L635.8,242.3ZM638.5,252.7L641.2,255.4L644.1,252.5L641.4,249.8L644.1,247.1L641.2,244.2L638.5,246.9L635.8,244.2L632.9,247.1L635.6,249.8L632.9,252.5L635.8,255.4ZM274.4,472L277.1,474.7L280,471.8L277.3,469.1L280,466.4L277.1,463.5L274.4,466.2L271.7,463.5L268.8,466.4L271.5,469.1L268.8,471.8L271.7,474.7ZM274.2,503.1L276.9,505.8L279.8,502.9L277.1,500.2L279.8,497.5L276.9,494.6L274.2,497.3L271.5,494.6L268.6,497.5L271.3,500.2L268.6,502.9L271.5,505.8ZM279.8,513.1L282.5,515.8L285.4,512.9L282.7,510.2L285.4,507.5L282.5,504.6L279.8,507.3L277.1,504.6L274.2,507.5L276.9,510.2L274.2,512.9L277.1,515.8ZM258.7,517.8L261.4,520.5L264.3,517.6L261.6,514.9L264.3,512.2L261.4,509.3L258.7,512L256,509.3L253.1,512.2L255.8,514.9L253.1,517.6L256,520.5ZM269,519.4L271.7,522.1L274.6,519.2L271.9,516.5L274.6,513.8L271.7,510.9L269,513.6L266.3,510.9L263.4,513.8L266.1,516.5L263.4,519.2L266.3,522.1ZM289.7,519.4L292.4,522.1L295.3,519.2L292.6,516.5L295.3,513.8L292.4,510.9L289.7,513.6L287,510.9L284.1,513.8L286.8,516.5L284.1,519.2L287,522.1ZM279.8,525L282.5,527.7L285.4,524.8L282.7,522.1L285.4,519.4L282.5,516.5L279.8,519.2L277.1,516.5L274.2,519.4L276.9,522.1L274.2,524.8L277.1,527.7ZM258.7,528.9L261.4,531.6L264.3,528.7L261.6,526L264.3,523.3L261.4,520.4L258.7,523.1L256,520.4L253.1,523.3L255.8,526L253.1,528.7L256,531.6ZM289.7,531.3L292.4,534L295.3,531.1L292.6,528.4L295.3,525.7L292.4,522.8L289.7,525.5L287,522.8L284.1,525.7L286.8,528.4L284.1,531.1L287,534ZM269,533.9L271.7,536.6L274.6,533.7L271.9,531L274.6,528.3L271.7,525.4L269,528.1L266.3,525.4L263.4,528.3L266.1,531L263.4,533.7L266.3,536.6ZM280.2,535.9L282.9,538.6L285.8,535.7L283.1,533L285.8,530.3L282.9,527.4L280.2,530.1L277.5,527.4L274.6,530.3L277.3,533L274.6,535.7L277.5,538.6ZM269,542.6L271.7,545.3L274.6,542.4L271.9,539.7L274.6,537L271.7,534.1L269,536.8L266.3,534.1L263.4,537L266.1,539.7L263.4,542.4L266.3,545.3ZM280.2,549.7L282.9,552.4L285.8,549.5L283.1,546.8L285.8,544.1L282.9,541.2L280.2,543.9L277.5,541.2L274.6,544.1L277.3,546.8L274.6,549.5L277.5,552.4ZM269,556.5L271.7,559.2L274.6,556.3L271.9,553.6L274.6,550.9L271.7,548L269,550.7L266.3,548L263.4,550.9L266.1,553.6L263.4,556.3L266.3,559.2ZM258.7,562.8L261.4,565.5L264.3,562.6L261.6,559.9L264.3,557.2L261.4,554.3L258.7,557L256,554.3L253.1,557.2L255.8,559.9L253.1,562.6L256,565.5ZM290.5,560.4L293.2,563.1L296.1,560.2L293.4,557.5L296.1,554.8L293.2,551.9L290.5,554.6L287.8,551.9L284.9,554.8L287.6,557.5L284.9,560.2L287.8,563.1ZM279.8,564.8L282.5,567.5L285.4,564.6L282.7,561.9L285.4,559.2L282.5,556.3L279.8,559L277.1,556.3L274.2,559.2L276.9,561.9L274.2,564.6L277.1,567.5ZM274.2,575.5L276.9,578.2L279.8,575.3L277.1,572.6L279.8,569.9L276.9,567L274.2,569.7L271.5,567L268.6,569.9L271.3,572.6L268.6,575.3L271.5,578.2ZM274.5,620.5L277.2,623.2L280.1,620.3L277.4,617.6L280.1,614.9L277.2,612L274.5,614.7L271.8,612L268.9,614.9L271.6,617.6L268.9,620.3L271.8,623.2ZM638.7,510.8L641.4,513.5L644.3,510.6L641.6,507.9L644.3,505.2L641.4,502.3L638.7,505L636,502.3L633.1,505.2L635.8,507.9L633.1,510.6L636,513.5ZM628.5,512.8L631.2,515.5L634.1,512.6L631.4,509.9L634.1,507.2L631.2,504.3L628.5,507L625.8,504.3L622.9,507.2L625.6,509.9L622.9,512.6L625.8,515.5ZM618.3,519L621,521.7L623.9,518.8L621.2,516.1L623.9,513.4L621,510.5L618.3,513.2L615.6,510.5L612.7,513.4L615.4,516.1L612.7,518.8L615.6,521.7ZM628.5,526.4L631.2,529.1L634.1,526.2L631.4,523.5L634.1,520.8L631.2,517.9L628.5,520.6L625.8,517.9L622.9,520.8L625.6,523.5L622.9,526.2L625.8,529.1ZM608.2,536.2L610.9,538.9L613.8,536L611.1,533.3L613.8,530.6L610.9,527.7L608.2,530.4L605.5,527.7L602.6,530.6L605.3,533.3L602.6,536L605.5,538.9ZM618.3,538.6L621,541.3L623.9,538.4L621.2,535.7L623.9,533L621,530.1L618.3,532.8L615.6,530.1L612.7,533L615.4,535.7L612.7,538.4L615.6,541.3ZM638.7,534.3L641.4,537L644.3,534.1L641.6,531.4L644.3,528.7L641.4,525.8L638.7,528.5L636,525.8L633.1,528.7L635.8,531.4L633.1,534.1L636,537ZM628.9,545.3L631.6,548L634.5,545.1L631.8,542.4L634.5,539.7L631.6,536.8L628.9,539.5L626.2,536.8L623.3,539.7L626,542.4L623.3,545.1L626.2,548ZM608.2,548.4L610.9,551.1L613.8,548.2L611.1,545.5L613.8,542.8L610.9,539.9L608.2,542.6L605.5,539.9L602.6,542.8L605.3,545.5L602.6,548.2L605.5,551.1ZM638.7,550.4L641.4,553.1L644.3,550.2L641.6,547.5L644.3,544.8L641.4,541.9L638.7,544.6L636,541.9L633.1,544.8L635.8,547.5L633.1,550.2L636,553.1ZM617.9,556.3L620.6,559L623.5,556.1L620.8,553.4L623.5,550.7L620.6,547.8L617.9,550.5L615.2,547.8L612.3,550.7L615,553.4L612.3,556.1L615.2,559ZM628.9,556.7L631.6,559.4L634.5,556.5L631.8,553.8L634.5,551.1L631.6,548.2L628.9,550.9L626.2,548.2L623.3,551.1L626,553.8L623.3,556.5L626.2,559.4ZM617.9,562.9L620.6,565.6L623.5,562.7L620.8,560L623.5,557.3L620.6,554.4L617.9,557.1L615.2,554.4L612.3,557.3L615,560L612.3,562.7L615.2,565.6ZM608.2,571.1L610.9,573.8L613.8,570.9L611.1,568.2L613.8,565.5L610.9,562.6L608.2,565.3L605.5,562.6L602.6,565.5L605.3,568.2L602.6,570.9L605.5,573.8ZM618.7,579.3L621.4,582L624.3,579.1L621.6,576.4L624.3,573.7L621.4,570.8L618.7,573.5L616,570.8L613.1,573.7L615.8,576.4L613.1,579.1L616,582ZM628.9,574.6L631.6,577.3L634.5,574.4L631.8,571.7L634.5,569L631.6,566.1L628.9,568.8L626.2,566.1L623.3,569L626,571.7L623.3,574.4L626.2,577.3ZM623.7,618.7L626.4,621.4L629.3,618.5L626.6,615.8L629.3,613.1L626.4,610.2L623.7,612.9L621,610.2L618.1,613.1L620.8,615.8L618.1,618.5L621,621.4ZM623.7,633.2L626.4,635.9L629.3,633L626.6,630.3L629.3,627.6L626.4,624.7L623.7,627.4L621,624.7L618.1,627.6L620.8,630.3L618.1,633L621,635.9Z"/>
<path d="M88.2,243.4H108.6M88.2,274.1H108.6M98.4,243.4V274.1" stroke="#2a2a2a" stroke-width="1.35" fill="none"/>
<rect x="88.6" y="256.1" width="19.6" height="3.6" fill="#000"/>
<path d="M141.8,232.9H162.2M141.8,273.1H162.2M152,232.9V273.1" stroke="#2a2a2a" stroke-width="1.35" fill="none"/>
<rect x="142.2" y="255.9" width="19.6" height="3.6" fill="#000"/>
<path d="M210.8,224H231.2M210.8,267.1H231.2M221,224V267.1" stroke="#2a2a2a" stroke-width="1.35" fill="none"/>
<rect x="211.2" y="249.2" width="19.6" height="3.6" fill="#000"/>
<path d="M264.2,242.5H284.6M264.2,276.2H284.6M274.4,242.5V276.2" stroke="#2a2a2a" stroke-width="1.35" fill="none"/>
<rect x="264.6" y="260" width="19.6" height="3.6" fill="#000"/>
<path d="M437.2,202.6H457.6M437.2,250H457.6M447.4,202.6V250" stroke="#2a2a2a" stroke-width="1.35" fill="none"/>
<rect x="437.6" y="227.3" width="19.6" height="3.6" fill="#000"/>
<path d="M491.2,189.4H511.6M491.2,237H511.6M501.4,189.4V237" stroke="#2a2a2a" stroke-width="1.35" fill="none"/>
<rect x="491.6" y="224.6" width="19.6" height="3.6" fill="#000"/>
<path d="M560.1,183.3H580.5M560.1,237.5H580.5M570.3,183.3V237.5" stroke="#2a2a2a" stroke-width="1.35" fill="none"/>
<rect x="560.5" y="231.05" width="19.6" height="3.6" fill="#000"/>
<path d="M613.4,193.4H633.8M613.4,242.1H633.8M623.6,193.4V242.1" stroke="#2a2a2a" stroke-width="1.35" fill="none"/>
<rect x="613.8" y="223.1" width="19.6" height="3.6" fill="#000"/>
<path d="M88.2,523.9H108.6M88.2,544H108.6M98.4,523.9V544" stroke="#2a2a2a" stroke-width="1.35" fill="none"/>
<rect x="88.6" y="532.3" width="19.6" height="3.6" fill="#000"/>
<path d="M141.9,516.1H162.3M141.9,557.1H162.3M152.1,516.1V557.1" stroke="#2a2a2a" stroke-width="1.35" fill="none"/>
<rect x="142.3" y="530.9" width="19.6" height="3.6" fill="#000"/>
<path d="M210.8,519.4H231.2M210.8,555.2H231.2M221,519.4V555.2" stroke="#2a2a2a" stroke-width="1.35" fill="none"/>
<rect x="211.2" y="535" width="19.6" height="3.6" fill="#000"/>
<path d="M264.2,516.3H284.6M264.2,557.4H284.6M274.4,516.3V557.4" stroke="#2a2a2a" stroke-width="1.35" fill="none"/>
<rect x="264.6" y="529.75" width="19.6" height="3.6" fill="#000"/>
<path d="M437.3,517.9H457.7M437.3,566H457.7M447.5,517.9V566" stroke="#2a2a2a" stroke-width="1.35" fill="none"/>
<rect x="437.7" y="543.2" width="19.6" height="3.6" fill="#000"/>
<path d="M491.2,531.4H511.6M491.2,554.4H511.6M501.4,531.4V554.4" stroke="#2a2a2a" stroke-width="1.35" fill="none"/>
<rect x="491.6" y="544.7" width="19.6" height="3.6" fill="#000"/>
<path d="M560.1,521.1H580.5M560.1,547.7H580.5M570.3,521.1V547.7" stroke="#2a2a2a" stroke-width="1.35" fill="none"/>
<rect x="560.5" y="539" width="19.6" height="3.6" fill="#000"/>
<path d="M613.4,529.2H633.8M613.4,569.6H633.8M623.6,529.2V569.6" stroke="#2a2a2a" stroke-width="1.35" fill="none"/>
<rect x="613.8" y="545.6" width="19.6" height="3.6" fill="#000"/>
</svg>
</body></html>
